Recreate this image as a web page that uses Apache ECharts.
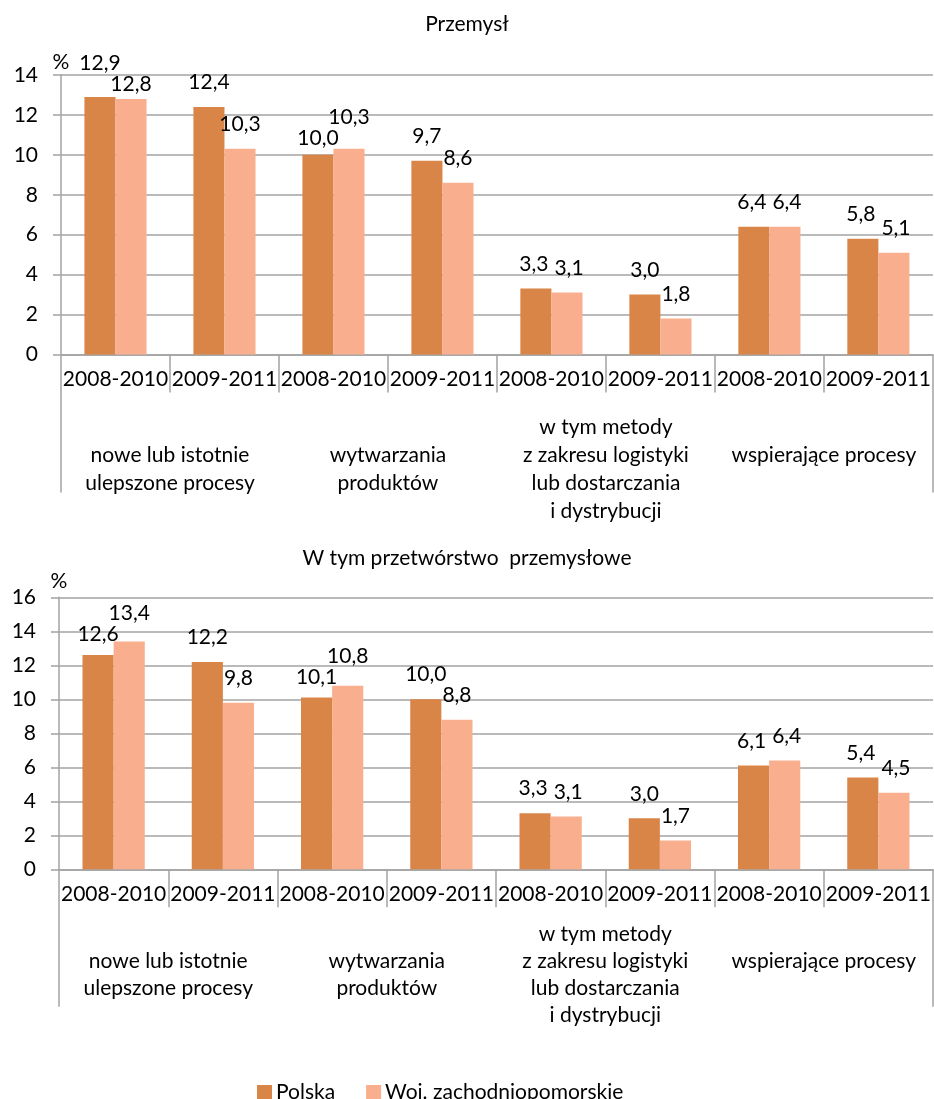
<!DOCTYPE html>
<html>
<head>
<meta charset="utf-8">
<script src="https://cdn.jsdelivr.net/npm/echarts@6/dist/echarts.min.js"></script>
<style>
html,body{margin:0;padding:0;background:#fff;}
#chart{width:934px;height:1099px;}
</style>
</head>
<body>
<div id="chart"></div>
<script>
// ---- data ----
var periods = ['2008-2010','2009-2011','2008-2010','2009-2011','2008-2010','2009-2011','2008-2010','2009-2011'];
var groups = ['nowe lub istotnie\nulepszone procesy','wytwarzania\nproduktów','w tym metody\nz zakresu logistyki\nlub dostarczania\ni dystrybucji','wspierające procesy'];
var seriesNames = ['Polska','Woj. zachodniopomorskie'];
var titleTop = 'Przemysł';
var titleBottom = 'W tym przetwórstwo  przemysłowe';
var przemyslPolska = [12.9,12.4,10.0,9.7,3.3,3.0,6.4,5.8];
var przemyslWoj = [12.8,10.3,10.3,8.6,3.1,1.8,6.4,5.1];
var przetworstwoPolska = [12.6,12.2,10.1,10.0,3.3,3.0,6.1,5.4];
var przetworstwoWoj = [13.4,9.8,10.8,8.8,3.1,1.7,6.4,4.5];
var yTop = {min:0,max:14,interval:2};
var yBottom = {min:0,max:16,interval:2};

// ---- styling ----
var FONT = 'Lato, "Open Sans", sans-serif';
var FS = 21;
var TXT = '#000';
var GRID = '#a3a3a3';
var COLORS = ['#d98547','#f9ae8e'];

var seriesData = [przemyslPolska, przemyslWoj, przetworstwoPolska, przetworstwoWoj];
function fmtVal(v){ return v.toFixed(1).replace('.', ','); }
function fmt(p){ return fmtVal(p.value); }
function groupFmt(v){ return v.indexOf('\n') < 0 ? v + '\n ' : v; }

var measureCtx = document.createElement('canvas').getContext('2d');
function textW(s){ measureCtx.font = FS + 'px ' + FONT; return measureCtx.measureText(s).width; }

// Excel-like separation of neighbouring value labels of the same category
function labelLayout(p){
  var si = p.seriesIndex, di = p.dataIndex;
  var isFirst = si % 2 === 0;
  var partner = isFirst ? si + 1 : si - 1;
  var own = seriesData[si][di], other = seriesData[partner][di];
  if (!p.rect || !own) return {};
  var k = p.rect.height / own;
  var wOwn = p.labelRect.width, wOther = textW(fmtVal(other));
  var H = p.labelRect.height;
  var centerDist = p.rect.width;
  var halfSum = (wOwn + wOther) / 2;
  var diff = (own - other) * k; // >0: own label sits higher
  if (Math.abs(diff) >= H) return {};
  if (halfSum - 3 > centerDist) {
    var sep = (H - Math.abs(diff)) / 2;
    var ownUp = diff > 0 || (diff === 0 && isFirst);
    return {dy: ownUp ? -sep : sep};
  }
  var push = Math.max(0, (halfSum + 6 - centerDist) / 2);
  return {dx: isFirst ? -push : push};
}

function barSeries(name, data, idx, color){
  return {
    name: name, type: 'bar', xAxisIndex: idx*2, yAxisIndex: idx,
    data: data, barGap: '0%', barCategoryGap: '43%',
    itemStyle: {color: color},
    label: {show: true, position: 'top', distance: 14, formatter: fmt,
            fontFamily: FONT, fontSize: FS, color: TXT},
    labelLayout: labelLayout
  };
}

function catAxis(gridIndex){
  return {
    type: 'category', gridIndex: gridIndex, data: periods, position: 'bottom',
    axisLine: {show: true, lineStyle: {color: GRID, width: 1.5}},
    axisTick: {show: true, interval: 0, length: 38, lineStyle: {color: GRID, width: 1.5}},
    axisLabel: {interval: 0, margin: 14, fontFamily: FONT, fontSize: FS, color: TXT}
  };
}
function groupAxis(gridIndex, margin, tickLen, lh){
  return {
    type: 'category', gridIndex: gridIndex, data: groups, position: 'bottom',
    axisLine: {show: false},
    axisTick: {show: true, length: tickLen, interval: function(i){ return i === 1; },
               lineStyle: {color: GRID, width: 1.5}},
    axisLabel: {interval: 0, margin: margin, fontFamily: FONT, fontSize: FS, color: TXT,
                verticalAlign: 'middle', align: 'center', lineHeight: lh, formatter: groupFmt}
  };
}
function valAxis(gridIndex, cfg, gap){
  return {
    type: 'value', gridIndex: gridIndex, min: cfg.min, max: cfg.max, interval: cfg.interval,
    name: '%', nameLocation: 'end', nameGap: gap, nameMoveOverlap: false,
    nameTextStyle: {fontFamily: FONT, fontSize: FS, color: TXT, align: 'center', verticalAlign: 'middle'},
    axisLine: {show: true, lineStyle: {color: GRID, width: 1.5}},
    axisTick: {show: true, length: 8, lineStyle: {color: GRID, width: 1.5}},
    axisLabel: {margin: 23, fontFamily: FONT, fontSize: FS, color: TXT},
    splitLine: {show: true, lineStyle: {color: GRID, width: 1.5}}
  };
}

var chart = echarts.init(document.getElementById('chart'), null, {renderer: 'canvas'});
chart.setOption({
  animation: false,
  backgroundColor: '#fff',
  title: [
    {text: titleTop, left: 'center', top: 9, textStyle: {fontFamily: FONT, fontSize: FS, fontWeight: 'normal', color: TXT}},
    {text: titleBottom, left: 'center', top: 543, textStyle: {fontFamily: FONT, fontSize: FS, fontWeight: 'normal', color: TXT}}
  ],
  legend: {
    data: seriesNames, left: 252, top: 1077, itemWidth: 15, itemHeight: 15, itemGap: 31,
    icon: 'rect', textStyle: {fontFamily: FONT, fontSize: FS, color: TXT, padding: [0,0,0,-1]}
  },
  grid: [
    {left: 61, right: 1, top: 75, height: 279.5},
    {left: 59, right: 1, top: 597.3, height: 272}
  ],
  xAxis: [
    catAxis(0), groupAxis(0, 114.5, 138, 28),
    catAxis(1), groupAxis(1, 105.5, 137.4, 27)
  ],
  yAxis: [valAxis(0, yTop, 13), valAxis(1, yBottom, 16)],
  series: [
    barSeries(seriesNames[0], przemyslPolska, 0, COLORS[0]),
    barSeries(seriesNames[1], przemyslWoj, 0, COLORS[1]),
    barSeries(seriesNames[0], przetworstwoPolska, 1, COLORS[0]),
    barSeries(seriesNames[1], przetworstwoWoj, 1, COLORS[1])
  ]
});
</script>
</body>
</html>
